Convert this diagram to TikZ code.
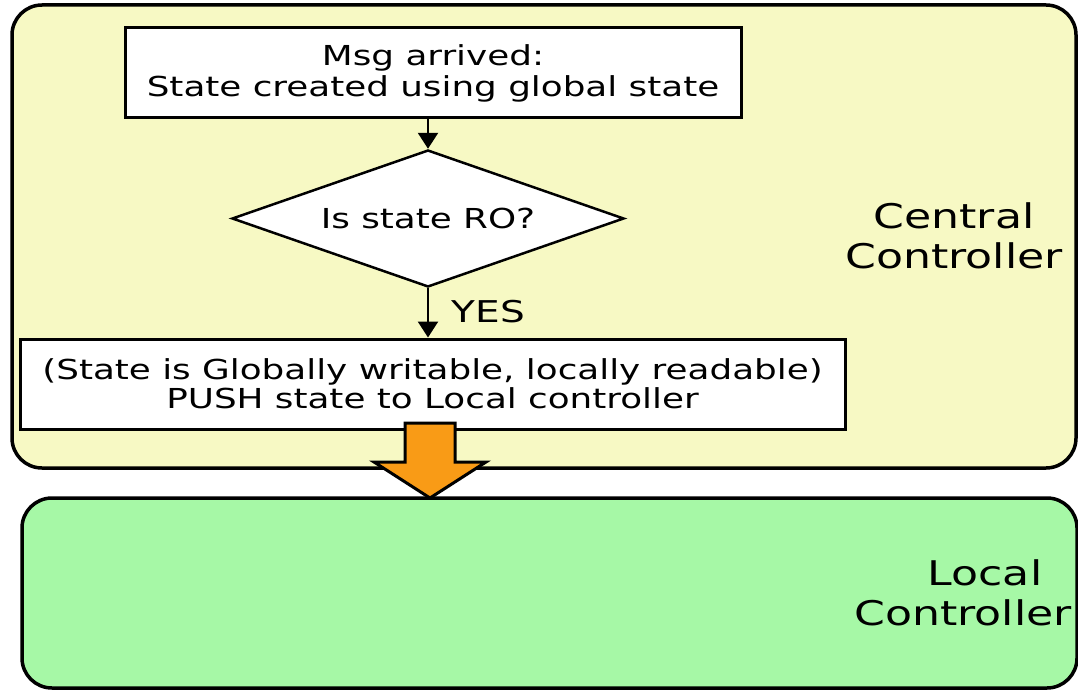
\documentclass[tikz,border=0pt]{standalone}
\usepackage{fontspec}
\setmainfont[FakeStretch=1.3]{DejaVu Sans}
\newfontfamily\widefont[FakeStretch=1.3]{DejaVu Sans}
\usetikzlibrary{shapes.geometric,arrows.meta,calc}

\definecolor{centralfill}{HTML}{F7F9C4}
\definecolor{localfill}{HTML}{A6F8A6}
\definecolor{pushorange}{HTML}{F99B16}

\tikzset{
  panel/.style={rectangle, draw=black, line width=3.5pt, rounded corners=30pt, inner sep=0pt},
  stepbox/.style={rectangle, draw=black, fill=white, line width=3pt, inner sep=0pt,
                  align=center, font=\fontsize{27.5}{31}\selectfont},
  decision/.style={diamond, aspect=2.86, draw=black, fill=white, line width=2.5pt, inner sep=0pt,
                   font=\fontsize{27.5}{31}\selectfont},
  sidelabel/.style={inner sep=0pt, align=center},
  flow/.style={draw=black, line width=2.5pt, -{Triangle[width=20pt,length=16pt]}},
  blockarrow/.style={draw=black, fill=pushorange, line width=3pt, line join=miter},
}

\begin{document}
\begin{tikzpicture}[x=1pt,y=-1pt]
  \useasboundingbox (0,0) rectangle (1078,690);
  \fill[white] (0,0) rectangle (1078,690);

  % controller panels
  \node[panel, fill=centralfill, minimum width=1064pt, minimum height=463pt] (central) at (544,236.5) {};
  \node[panel, fill=localfill, minimum width=1055pt, minimum height=190pt] (local) at (549.5,593) {};

  % flow inside the central controller
  \node[stepbox, minimum width=616pt, minimum height=90pt] (msg) at (433,73)
    {Msg arrived:\\State created using global state};
  \node[decision, minimum width=392pt, minimum height=137pt] (ro) at (428,218.5) {Is state RO?};
  \node[stepbox, minimum width=825pt, minimum height=90pt] (push) at (432.5,384)
    {(State is Globally writable, locally readable)\\[-2pt]PUSH state to Local controller};

  \draw[flow] (ro.north |- msg.south) -- (ro.north);
  \draw[flow] (ro.south) -- (ro.south |- push.north);
  \node[inner sep=0pt, font=\fontsize{30}{30}\selectfont] (yes) at (488.5,312) {YES};

  % push arrow down to the local controller
  \coordinate (pushtail) at (430,423);
  \coordinate (pushtip) at (430,498);
  \draw[blockarrow] ($(pushtail)+(-25,0)$) -- ($(pushtail)+(25,0)$)
    -- ($(pushtip)+(25,-36)$) -- ($(pushtip)+(56,-36)$) -- (pushtip)
    -- ($(pushtip)+(-56,-36)$) -- ($(pushtip)+(-25,-36)$) -- cycle;

  % panel labels
  \node[sidelabel, font=\widefont\fontsize{34}{40}\selectfont] (centrallabel) at (954,236)
    {Central\\Controller};
  \node[sidelabel, font=\widefont\fontsize{34}{40}\selectfont] (locallabel) at (963,593)
    {\hspace*{44pt}Local\\Controller};
\end{tikzpicture}
\end{document}
